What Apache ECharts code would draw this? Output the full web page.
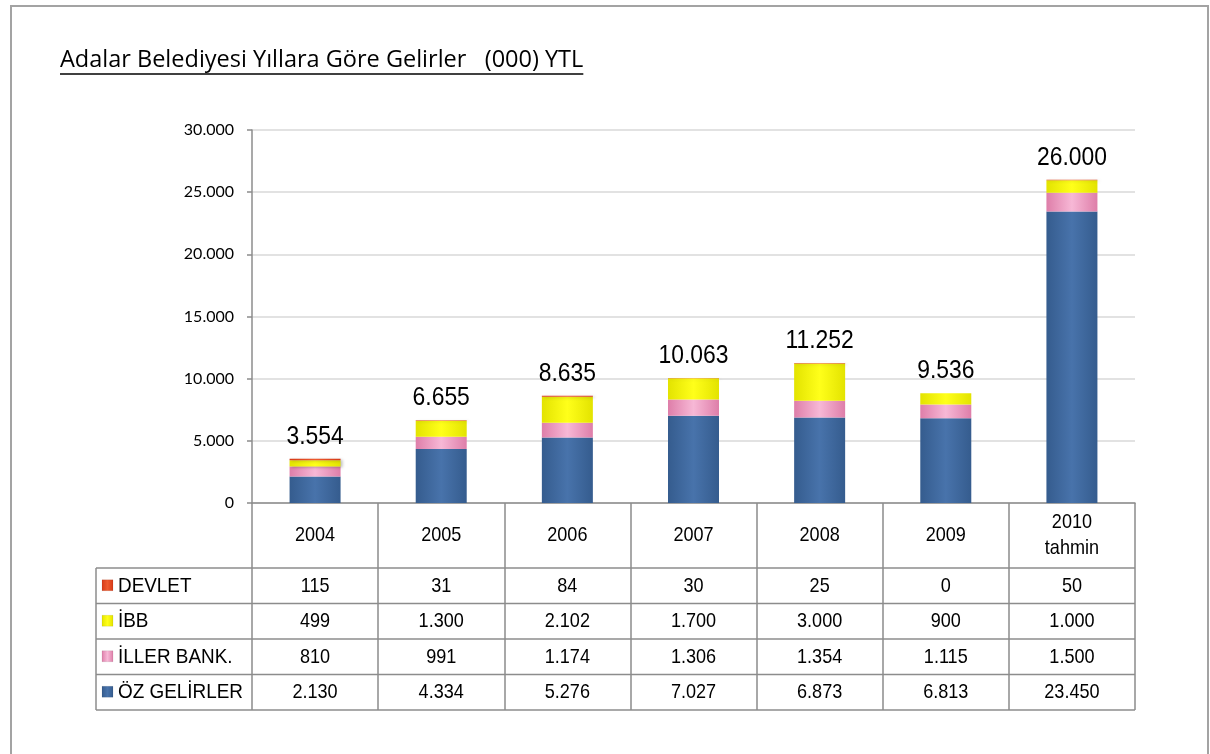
<!DOCTYPE html>
<html><head><meta charset="utf-8">
<script src="https://cdn.jsdelivr.net/npm/echarts@6/dist/echarts.min.js"></script>
<style>html,body{margin:0;padding:0;background:#fff}#c{width:1210px;height:754px}</style>
</head><body><div id="c"></div>
<script>
// ---- data ----
const years = ['2004', '2005', '2006', '2007', '2008', '2009', '2010\ntahmin'];
const rowNames = ['DEVLET', 'İBB', 'İLLER BANK.', 'ÖZ GELİRLER'];
const devlet = [115, 31, 84, 30, 25, 0, 50];
const ibb = [499, 1300, 2102, 1700, 3000, 900, 1000];
const iller = [810, 991, 1174, 1306, 1354, 1115, 1500];
const oz = [2130, 4334, 5276, 7027, 6873, 6813, 23450];
const totals = [3554, 6655, 8635, 10063, 11252, 9536, 26000];
const yMin = 0, yMax = 30000, yStep = 5000;
const titleText = 'Adalar Belediyesi Yıllara Göre Gelirler   (000) YTL';

// ---- helpers ----
function fmt(n) { return String(n).replace(/\B(?=(\d{3})+(?!\d))/g, '.'); }
const SANS = "'Liberation Sans', Arial, sans-serif";
const NARROW_SCALE = 0.86;
function hGrad(edge, mid) {
  return { type: 'linear', x: 0, y: 0, x2: 1, y2: 0,
    colorStops: [{ offset: 0, color: edge }, { offset: 0.5, color: mid }, { offset: 1, color: edge }] };
}
const colors = {
  'DEVLET': hGrad('#d63a17', '#ee5a2e'),
  'İBB': hGrad('#e3e300', '#ffff1a'),
  'İLLER BANK.': hGrad('#de7ea9', '#f7b8d6'),
  'ÖZ GELİRLER': hGrad('#355c8e', '#4873ab')
};
const rowData = { 'DEVLET': devlet, 'İBB': ibb, 'İLLER BANK.': iller, 'ÖZ GELİRLER': oz };

// ---- layout ----
const G = { left: 252, right: 1135, top: 130, bottom: 503 };
const headerBottom = 568, rowH = 35.5;
const tableLeft = 96;
const lineColor = '#8c8c8c';

const chart = echarts.init(document.getElementById('c'), null, { renderer: 'canvas' });

const stackOrder = ['ÖZ GELİRLER', 'İLLER BANK.', 'İBB', 'DEVLET'];
const series = stackOrder.map(function (name) {
  return {
    name: name, type: 'bar', stack: 'total', barWidth: 51,
    data: rowData[name],
    itemStyle: { color: colors[name], shadowBlur: 3, shadowOffsetX: 2, shadowOffsetY: 1, shadowColor: 'rgba(0,0,0,0.25)' }
  };
});

function staticGraphics() {
  const g = [];
  g.push({ type: 'rect', shape: { x: 11, y: 6, width: 1197, height: 780 }, style: { fill: null, stroke: '#a3a3a3', lineWidth: 2 }, silent: true });
  for (let i = 0; i <= rowNames.length; i++) {
    const y = headerBottom + rowH * i;
    g.push({ type: 'line', shape: { x1: tableLeft, y1: y, x2: G.right, y2: y }, style: { stroke: lineColor, lineWidth: 1.5 } });
  }
  g.push({ type: 'line', shape: { x1: tableLeft, y1: headerBottom, x2: tableLeft, y2: headerBottom + rowH * rowNames.length }, style: { stroke: lineColor, lineWidth: 1.5 } });
  rowNames.forEach(function (name, i) {
    const cy = headerBottom + rowH * i + rowH / 2;
    g.push({ type: 'rect', shape: { x: 102, y: cy - 6, width: 11, height: 11 }, style: { fill: colors[name], stroke: 'rgba(0,0,0,0.15)', lineWidth: 0.5 } });
    g.push({ type: 'text', x: 118, y: cy, scaleX: 0.9, style: { text: name, fill: '#000', font: '21px ' + SANS, textVerticalAlign: 'middle', verticalAlign: 'middle' } });
  });
  const TITLE_FONT = "23.5px 'Open Sans', sans-serif";
  const ctx = document.createElement('canvas').getContext('2d');
  ctx.font = TITLE_FONT;
  const tw = ctx.measureText(titleText).width;
  g.push({ type: 'text', x: 60, y: 60, style: { text: titleText, fill: '#000', font: TITLE_FONT, verticalAlign: 'middle', textVerticalAlign: 'middle' } });
  g.push({ type: 'line', shape: { x1: 60, y1: 74, x2: 60 + tw, y2: 74 }, style: { stroke: '#000', lineWidth: 1.5 } });
  return g;
}

chart.setOption({
  backgroundColor: '#fff',
  animation: false,
  grid: { left: G.left, right: 1210 - G.right, top: G.top, bottom: 754 - G.bottom, containLabel: false },
  xAxis: {
    type: 'category', data: years,
    axisLine: { show: true, lineStyle: { color: lineColor, width: 1.5 } },
    axisTick: { show: true, length: 207, interval: 0, alignWithLabel: false, lineStyle: { color: lineColor, width: 1.5 } },
    axisLabel: { show: false }
  },
  yAxis: {
    type: 'value', min: yMin, max: yMax, interval: yStep,
    axisLine: { show: true, lineStyle: { color: lineColor, width: 1.5 } },
    axisTick: { show: true, inside: false, length: 5, lineStyle: { color: lineColor, width: 1.5 } },
    splitLine: { show: true, lineStyle: { color: '#d9d9d9', width: 1.5 } },
    axisLabel: { margin: 18, color: '#000', fontFamily: "Lato, 'Open Sans', sans-serif", fontSize: 16, formatter: function (v) { return fmt(v); } }
  },
  series: series,
  graphic: staticGraphics()
});

// second pass: table cells and total labels placed with the library's scales
const g = staticGraphics();
years.forEach(function (yr, i) {
  const cx = chart.convertToPixel({ xAxisIndex: 0 }, yr);
  g.push({ type: 'text', x: cx, y: (G.bottom + headerBottom) / 2, scaleX: NARROW_SCALE,
    style: { text: yr, fill: '#000', font: '21px ' + SANS, align: 'center', textAlign: 'center', verticalAlign: 'middle', textVerticalAlign: 'middle', lineHeight: 26 } });
  rowNames.forEach(function (name, r) {
    const cy = headerBottom + rowH * r + rowH / 2;
    g.push({ type: 'text', x: cx, y: cy, scaleX: NARROW_SCALE,
      style: { text: fmt(rowData[name][i]), fill: '#000', font: '21px ' + SANS, align: 'center', textAlign: 'center', verticalAlign: 'middle', textVerticalAlign: 'middle' } });
  });
  const stackTop = devlet[i] + ibb[i] + iller[i] + oz[i];
  const ty = chart.convertToPixel({ yAxisIndex: 0 }, stackTop);
  g.push({ type: 'text', x: cx, y: ty - 9, scaleX: 0.88,
    style: { text: fmt(totals[i]), fill: '#000', font: '26px ' + SANS, align: 'center', textAlign: 'center', verticalAlign: 'bottom', textVerticalAlign: 'bottom' } });
});
chart.setOption({ graphic: g }, { replaceMerge: ['graphic'] });
</script>
</body></html>
